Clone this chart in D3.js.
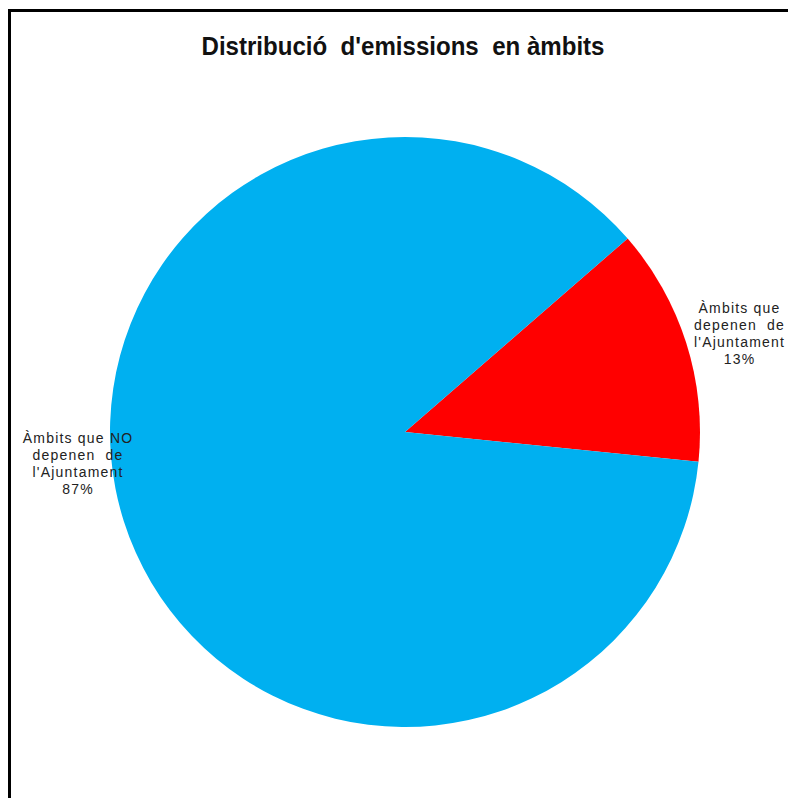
<!DOCTYPE html>
<html>
<head>
<meta charset="utf-8">
<script src="https://cdn.jsdelivr.net/npm/d3@7"></script>
<style>
  body { margin: 0; background: #fff; }
</style>
</head>
<body>
<div id="chart"></div>
<script>
// data
var categories = ["Àmbits que depenen de l'Ajuntament", "Àmbits que NO depenen de l'Ajuntament"];
var values = [13, 87];
var labelLines = [
  ["Àmbits que", "depenen  de", "l'Ajuntament", "13%"],
  ["Àmbits que NO", "depenen  de", "l'Ajuntament", "87%"]
];
var colors = ["#ff0000", "#00b0f0"];
var title = "Distribució  d'emissions  en àmbits";

var width = 788, height = 798;

var svg = d3.select("#chart")
  .append("svg")
  .attr("width", width)
  .attr("height", height);

// outer frame (cut off on right and bottom like the screenshot)
svg.append("rect")
  .attr("x", 9.5)
  .attr("y", 10.5)
  .attr("width", 900)
  .attr("height", 900)
  .attr("fill", "none")
  .attr("stroke", "#000")
  .attr("stroke-width", 3);

svg.append("text")
  .attr("x", 403)
  .attr("y", 55)
  .attr("text-anchor", "middle")
  .attr("textLength", 403)
  .attr("lengthAdjust", "spacingAndGlyphs")
  .style("font-family", "'Liberation Sans', Arial, sans-serif")
  .style("font-weight", "bold")
  .style("font-size", "25px")
  .style("white-space", "pre")
  .attr("fill", "#111")
  .text(title);

var cx = 405, cy = 432, radius = 295;

// red slice starts at ~49 degrees clockwise from the top
var start = 49 * Math.PI / 180;
var pie = d3.pie()
  .sort(null)
  .startAngle(start)
  .endAngle(start + 2 * Math.PI);

var arc = d3.arc()
  .innerRadius(0)
  .outerRadius(radius);

var g = svg.append("g")
  .attr("transform", "translate(" + cx + "," + cy + ")");

var arcs = pie(values);

g.selectAll("path")
  .data(arcs)
  .enter()
  .append("path")
  .attr("d", arc)
  .attr("fill", function(d, i) { return colors[i]; });

// labels: out from each slice's middle angle, nudged like excel does
var labelPos = [
  { r: 351, dy: 12.5 },
  { r: 343, dy: -67 }
];
var lineH = 17;

var lab = svg.append("g")
  .style("font-family", "'Liberation Sans', Arial, sans-serif")
  .style("font-size", "14px")
  .style("letter-spacing", "1.2px")
  .attr("fill", "#222");

arcs.forEach(function(d, i) {
  var a = (d.startAngle + d.endAngle) / 2;
  var x = cx + Math.sin(a) * labelPos[i].r;
  var y = cy - Math.cos(a) * labelPos[i].r + labelPos[i].dy;
  var t = lab.append("text")
    .attr("text-anchor", "middle")
    .style("white-space", "pre")
    .attr("x", x)
    .attr("y", y - lineH * (labelLines[i].length - 1) / 2);
  labelLines[i].forEach(function(line, j) {
    t.append("tspan")
      .attr("x", x)
      .attr("dy", j === 0 ? 0 : lineH)
      .text(line);
  });
});
</script>
</body>
</html>
